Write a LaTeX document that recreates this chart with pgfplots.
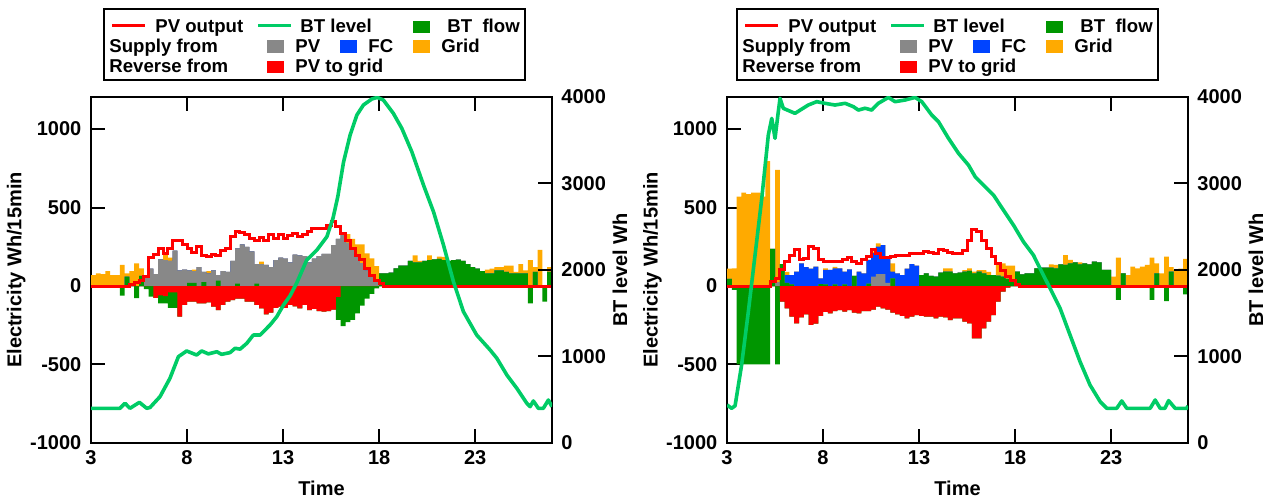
\documentclass[border=0pt]{standalone}
\usepackage{fontspec}
\setmainfont{Liberation Sans}
\usepackage{pgfplots}
\usepackage{pgfplotstable}
\pgfplotsset{compat=1.18}

\definecolor{cGrid}{RGB}{255,170,0}
\definecolor{cBT}{RGB}{0,150,0}
\definecolor{cPV}{RGB}{136,136,136}
\definecolor{cFC}{RGB}{0,68,255}
\definecolor{cRed}{RGB}{255,0,0}
\definecolor{cLine}{RGB}{0,204,102}

% t = bar centre (h); B = BT discharge, P = PV, F = FC, G = grid (supply, +)
% N = BT charge, R = PV to grid (reverse, -); L = PV output
\pgfplotstableread{
t B P F G N R L
3.125 0 0 0 70 0 0 0
3.375 0 0 0 80 0 0 0
3.625 0 0 0 75 0 0 0
3.875 0 0 0 95 0 0 0
4.125 0 0 0 70 0 0 0
4.375 0 0 0 70 0 0 0
4.625 0 0 0 134 -62 0 0
4.875 60 0 0 20 0 0 0
5.125 0 0 0 95 0 0 10
5.375 0 0 0 144 -78 0 23
5.625 64 0 0 48 0 0 38
5.875 0 60 0 10 -20 0 60
6.125 0 110 0 0 -68 0 180
6.375 0 75 0 0 0 -75 200
6.625 0 170 0 0 -50 -60 240
6.875 0 165 0 50 -45 -65 210
7.125 0 160 0 20 -100 -40 240
7.375 0 225 0 0 -100 -40 287
7.625 0 100 0 0 0 -195 293
7.875 0 105 0 0 0 -120 265
8.125 20 80 0 0 0 -100 240
8.375 20 75 0 10 0 -100 214
8.625 0 120 0 0 0 -110 250
8.875 25 65 0 0 0 -110 197
9.125 0 80 0 15 0 -105 187
9.375 0 100 0 0 0 -132 200
9.625 35 35 0 0 0 -153 193
9.875 0 95 0 0 0 -120 229
10.125 0 90 0 0 0 -100 240
10.375 0 160 0 0 0 -90 314
10.625 15 225 0 0 0 -80 346
10.875 0 265 0 0 0 -80 342
11.125 0 250 0 0 0 -100 325
11.375 0 220 0 0 0 -100 304
11.625 15 125 0 0 0 -120 293
11.875 0 140 0 15 0 -142 308
12.125 0 135 0 0 0 -180 293
12.375 0 120 0 0 0 -170 325
12.625 0 165 0 0 0 -140 304
12.875 0 180 0 0 0 -132 329
13.125 0 175 0 0 0 -140 304
13.375 0 150 0 0 0 -120 320
13.625 0 200 0 0 0 -130 335
13.875 0 195 0 0 0 -142 314
14.125 0 190 0 0 0 -120 325
14.375 0 150 0 0 0 -153 350
14.625 0 175 0 0 0 -145 367
14.875 0 190 0 0 0 -160 367
15.125 0 205 0 0 0 -163 367
15.375 0 205 0 0 0 -160 388
15.625 0 260 0 0 0 -150 414
15.875 0 300 0 0 -145 -70 378
16.125 0 330 0 0 -255 0 335
16.375 0 275 0 55 -230 0 293
16.625 0 230 0 70 -215 0 240
16.875 0 185 0 80 -175 0 197
17.125 0 145 0 120 -125 0 166
17.375 0 100 0 108 -80 0 112
17.625 0 60 0 116 -50 0 70
17.875 0 25 0 102 -15 0 38
18.125 80 0 0 0 0 0 17
18.375 80 0 0 0 0 0 0
18.625 85 0 0 0 0 0 0
18.875 112 0 0 0 0 0 0
19.125 130 0 0 0 0 0 0
19.375 130 0 0 0 0 0 0
19.625 160 0 0 0 0 0 0
19.875 150 0 0 45 0 0 0
20.125 150 0 0 10 0 0 0
20.375 160 0 0 0 0 0 0
20.625 165 0 0 30 0 0 0
20.875 170 0 0 0 0 0 0
21.125 172 0 0 15 0 0 0
21.375 165 0 0 20 0 0 0
21.625 160 0 0 0 0 0 0
21.875 165 0 0 0 0 0 0
22.125 168 0 0 0 0 0 0
22.375 160 0 0 0 0 0 0
22.625 140 0 0 0 0 0 0
22.875 120 0 0 0 0 0 0
23.125 110 0 0 0 0 0 0
23.375 95 0 0 0 0 0 0
23.625 80 0 0 25 0 0 0
23.875 80 0 0 30 0 0 0
24.125 100 0 0 20 0 0 0
24.375 100 0 0 20 0 0 0
24.625 90 0 0 40 0 0 0
24.875 80 0 0 50 0 0 0
25.125 80 0 0 10 0 0 0
25.375 80 0 0 60 0 0 0
25.625 80 0 0 20 0 0 0
25.875 0 0 0 165 -110 0 0
26.125 90 0 0 30 0 0 0
26.375 0 0 0 230 0 0 0
26.625 0 0 0 0 -100 0 0
26.875 90 0 0 30 0 0 0
27.125 0 0 0 0 0 0 0
}\leftdata

\pgfplotstableread{
t B P F G N R L
3.125 45 0 0 65 0 0 0
3.375 0 0 0 112 -25 0 0
3.625 0 0 0 570 -500 0 0
3.875 0 0 0 594 -500 0 0
4.125 0 0 0 585 -500 0 0
4.375 0 0 0 594 -500 0 0
4.625 0 0 0 594 -500 0 0
4.875 0 0 0 569 -500 0 0
5.125 0 0 0 796 -500 0 0
5.375 236 0 0 0 0 0 28
5.625 0 25 0 715 -500 0 49
5.875 140 0 0 0 0 -100 102
6.125 20 0 50 20 0 -142 155
6.375 10 0 60 0 0 -195 197
6.625 0 0 91 0 0 -238 233
6.875 0 0 144 0 0 -200 166
7.125 0 0 120 0 0 -180 176
7.375 0 0 110 0 0 -248 250
7.625 0 0 123 0 0 -240 240
7.875 12 0 37 0 0 -190 170
8.125 10 0 92 10 0 -165 159
8.375 0 0 102 0 0 -174 155
8.625 10 0 102 10 0 -160 159
8.875 0 0 112 0 0 -153 155
9.125 10 0 81 0 0 -163 166
9.375 0 0 106 0 0 -153 183
9.625 64 0 0 0 0 -170 155
9.875 0 0 91 0 0 -175 144
10.125 0 0 81 0 0 -160 166
10.375 15 0 151 0 0 -160 191
10.625 0 60 150 10 0 -150 233
10.875 0 76 175 20 0 -132 208
11.125 0 76 185 0 0 -142 180
11.375 0 20 156 0 0 -150 183
11.625 49 0 42 53 0 -170 191
11.875 0 0 81 0 0 -180 197
12.125 0 0 70 0 0 -190 197
12.375 0 0 110 0 0 -206 197
12.625 0 0 140 0 0 -195 204
12.875 0 0 130 0 0 -185 204
13.125 70 0 0 0 0 -190 208
13.375 81 0 0 0 0 -195 219
13.625 64 0 0 0 0 -195 212
13.875 60 0 0 0 0 -206 210
14.125 85 0 0 0 0 -195 233
14.375 91 0 0 21 0 -200 225
14.625 91 0 0 21 0 -217 215
14.875 81 0 0 0 0 -206 208
15.125 85 0 0 0 0 -206 208
15.375 91 0 0 10 0 -227 229
15.625 96 0 0 16 0 -238 293
15.875 81 0 0 10 0 -333 357
16.125 91 0 0 10 0 -333 346
16.375 81 0 0 20 0 -270 293
16.625 70 0 0 20 0 -227 240
16.875 70 0 0 0 0 -185 187
17.125 66 0 0 72 0 -100 144
17.375 59 0 0 85 0 -36 96
17.625 45 0 0 85 0 -10 59
17.875 40 0 0 90 0 0 32
18.125 91 0 0 0 0 0 10
18.375 74 0 0 0 0 0 0
18.625 80 0 0 0 0 0 0
18.875 80 0 0 0 0 0 0
19.125 112 0 0 0 0 0 0
19.375 117 0 0 0 0 0 0
19.625 117 0 0 0 0 0 0
19.875 117 0 0 20 0 0 0
20.125 112 0 0 22 0 0 0
20.375 138 0 0 0 0 0 0
20.625 134 0 0 63 0 0 0
20.875 144 0 0 22 0 0 0
21.125 151 0 0 0 0 0 0
21.375 138 0 0 13 0 0 0
21.625 144 0 0 0 0 0 0
21.875 138 0 0 0 0 0 0
22.125 155 0 0 0 0 0 0
22.375 150 0 0 0 0 0 0
22.625 102 0 0 0 0 0 0
22.875 102 0 0 0 0 0 0
23.125 0 0 0 60 0 0 0
23.375 0 0 0 180 -89 0 0
23.625 81 0 0 0 0 0 0
23.875 0 0 0 70 0 0 0
24.125 0 0 0 123 0 0 0
24.375 0 0 0 112 0 0 0
24.625 0 0 0 123 0 0 0
24.875 0 0 0 134 0 0 0
25.125 0 0 0 180 -89 0 0
25.375 81 0 0 63 0 0 0
25.625 0 0 0 80 0 0 0
25.875 0 0 0 187 -96 0 0
26.125 91 0 0 30 0 0 0
26.375 0 0 0 102 0 0 0
26.625 0 0 0 110 0 0 0
26.875 0 0 0 172 -53 0 0
27.125 0 0 0 0 0 0 0
}\rightdata

\newcommand{\labfont}{\bfseries\fontsize{10}{12}\selectfont}

\pgfplotsset{
  panel/.style={scale only axis, width=230.5pt, height=173pt, xmin=3, xmax=27,
    tick align=inside, major tick length=7pt,
    every tick/.style={black, line width=1pt},
    axis line style={line width=1pt},
    tick label style={font=\labfont}},
  elec/.style={panel, ymin=-1000, ymax=1204,
    xtick={3,8,13,18,23}, xticklabels={3,8,13,18,23},
    ytick={-1000,-500,0,500,1000}, yticklabels={-1000,-500,0,500,1000},
    xtick pos=both, ytick pos=left, yticklabel style={xshift=-1.3pt},
    xlabel={Time}, ylabel={Electricity Wh/15min},
    every axis x label/.style={at={(axis description cs:0.5,-0.13)}, anchor=center, font=\labfont},
    every axis y label/.style={at={(axis description cs:-0.162,0.5)}, anchor=center, rotate=90, font=\labfont}},
  btlev/.style={panel, ymin=0, ymax=4000, hide x axis, axis y line*=right,
    ytick={0,1000,2000,3000,4000}, yticklabels={0,1000,2000,3000,4000},
    yticklabel style={xshift=1.2pt}, ylabel={BT level Wh},
    every axis y label/.style={at={(axis description cs:1.1475,0.5)}, anchor=center, rotate=90, font=\labfont}},
  bars/.style={ybar, bar width=0.25, bar shift=0pt, draw=none, fill=#1},
}

\newcommand{\drawbars}[1]{%
  \addplot[bars=cGrid] table[x=t, y expr=\thisrow{B}+\thisrow{P}+\thisrow{F}+\thisrow{G}] {#1};
  \addplot[bars=cFC] table[x=t, y expr=\thisrow{B}+\thisrow{P}+\thisrow{F}] {#1};
  \addplot[bars=cPV] table[x=t, y expr=\thisrow{B}+\thisrow{P}] {#1};
  \addplot[bars=cBT] table[x=t, y=B] {#1};
  \addplot[bars=cBT] table[x=t, y expr=\thisrow{N}+\thisrow{R}] {#1};
  \addplot[bars=cRed] table[x=t, y=R] {#1};
  \addplot[const plot, cRed, line width=1.5pt] table[x expr=\thisrow{t}-0.125, y=L] {#1};
}

\newcommand{\legendbox}{%
  \draw[line width=1pt] (104,9) rectangle (525,80);
  \draw[cRed, line width=1.5pt] (112,25.5) -- (145,25.5);
  \node[anchor=base west, inner sep=0] at (155,33) {PV output};
  \draw[cLine, line width=1.5pt] (258,25.5) -- (291,25.5);
  \node[anchor=base west, inner sep=0] at (300,33) {BT level};
  \fill[cBT] (413,21) rectangle (430,33);
  \node[anchor=base west, inner sep=0] at (447,33) {BT\ \ flow};
  \node[anchor=base west, inner sep=0] at (109,53) {Supply from};
  \fill[cPV] (267,40) rectangle (284,53);
  \node[anchor=base west, inner sep=0] at (295,53) {PV};
  \fill[cFC] (340,40) rectangle (357,53);
  \node[anchor=base west, inner sep=0] at (368,53) {FC};
  \fill[cGrid] (413,40) rectangle (430,53);
  \node[anchor=base west, inner sep=0] at (441,53) {Grid};
  \node[anchor=base west, inner sep=0] at (109,73) {Reverse from};
  \fill[cRed] (267,61) rectangle (284,73);
  \node[anchor=base west, inner sep=0] at (295,73) {PV to grid};
}

\begin{document}
\begin{tikzpicture}
\path[use as bounding box] (0,0) rectangle (636pt,250.5pt);

% left panel
\begin{axis}[elec, at={(45.5pt,29pt)}]
\drawbars{\leftdata}
\end{axis}
\begin{axis}[btlev, at={(45.5pt,29pt)}]
\addplot[cLine, line width=1.8pt, line join=round] coordinates {
(3,400) (4.5,400) (4.77,459) (5.03,401) (5.52,470) (5.9,401) (6.07,410)
(6.59,535) (7.11,748) (7.55,998) (7.98,1064) (8.5,1017) (8.76,1064)
(9.11,1030) (9.55,1055) (9.8,1025) (10.24,1045) (10.5,1095) (10.76,1085)
(11.11,1152) (11.45,1248) (11.8,1248) (12.32,1364) (12.67,1460) (13.02,1595)
(13.36,1700) (13.71,1850) (14.23,2115) (14.76,2231) (15.28,2385) (15.6,2600)
(15.85,2850) (16.15,3250) (16.49,3560) (16.84,3791) (17.18,3907) (17.62,3977)
(17.9,3995) (18.22,3965) (18.74,3811) (19.18,3638) (19.7,3368) (20.31,2982)
(20.83,2674) (21.35,2289) (21.87,1865) (22.39,1518) (23.08,1248) (23.78,1075)
(24.13,979) (24.65,786) (25.17,632) (25.69,459) (25.86,420) (26.03,486)
(26.29,401) (26.55,401) (26.81,497) (27.0,420)
};
\end{axis}

% right panel
\begin{axis}[elec, at={(363.5pt,29pt)}]
\drawbars{\rightdata}
\end{axis}
\begin{axis}[btlev, at={(363.5pt,29pt)}]
\addplot[cLine, line width=1.8pt, line join=round] coordinates {
(3,440) (3.24,401) (3.42,430) (3.76,902) (4.11,1518) (4.46,2173) (4.81,2829)
(5.15,3560) (5.33,3753) (5.5,3522) (5.67,3830) (5.76,3985) (5.93,3869)
(6.54,3811) (7.23,3907) (7.67,3946) (8.1,3927) (8.62,3907) (9.15,3927)
(9.58,3888) (9.84,3849) (10.19,3870) (10.53,3849) (10.88,3927) (11.4,3995)
(11.75,3946) (12.27,3965) (12.79,3995) (13.14,3946) (13.66,3791) (14.01,3714)
(14.53,3522) (15.05,3349) (15.57,3213) (15.92,3078) (16.35,2982) (16.87,2867)
(17.39,2693) (17.91,2520) (18.43,2327) (18.95,2173) (19.38,1980) (19.82,1788)
(20.34,1557) (20.86,1248) (21.38,940) (21.9,670) (22.43,477) (22.77,401)
(23.29,401) (23.55,486) (23.81,401) (25.03,401) (25.29,497) (25.55,401)
(25.8,401) (25.99,490) (26.33,401) (26.94,401) (27,430)
};
\end{axis}

% legends
\begin{scope}[x=0.5pt, y=-0.5pt, shift={(0pt,250.5pt)}, font=\bfseries\fontsize{9.3}{11}\selectfont]
\legendbox
\begin{scope}[xshift=316.5pt]
\legendbox
\end{scope}
\end{scope}
\end{tikzpicture}
\end{document}
